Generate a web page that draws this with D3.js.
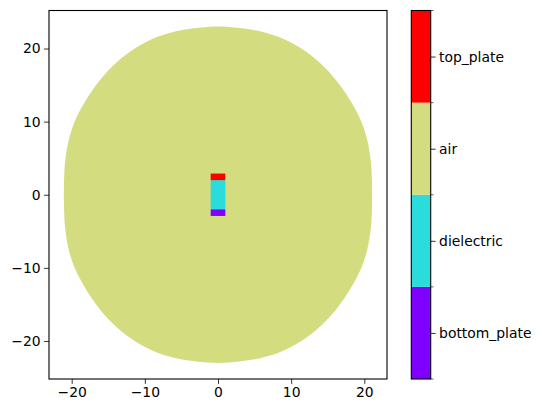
<!DOCTYPE html>
<html>
<head>
<meta charset="utf-8">
<script src="https://cdn.jsdelivr.net/npm/d3@7"></script>
<style>
  body { margin: 0; background: #fff; }
  svg { font-family: "DejaVu Sans", sans-serif; }
</style>
</head>
<body>
<svg id="chart" width="542" height="413"></svg>
<script>
// region names in colorbar order (bottom -> top)
const regions = ['bottom_plate', 'dielectric', 'air', 'top_plate']
const regionColors = ['#8000ff', '#2adcdc', '#d4dc80', '#ff0000']

// outline of the air region (x, y), clockwise from the top
const airBoundary = [
  [0, 23.0], [3, 22.8], [6, 22.3], [9, 21.3], [12, 19.6], [14.5, 17.5], [16.5, 15.2],
  [18.3, 12.5], [19.6, 10.0], [20.4, 7.5], [20.9, 4.5], [21.05, 1.5],
  [21.05, -1.5], [20.9, -4.5], [20.4, -7.5], [19.6, -10.0], [18.3, -12.5], [16.5, -15.2],
  [14.5, -17.5], [12, -19.6], [9, -21.3], [6, -22.3], [3, -22.8],
  [0, -23.0], [-3, -22.8], [-6, -22.3], [-9, -21.3], [-12, -19.6], [-14.5, -17.5],
  [-16.5, -15.2], [-18.3, -12.5], [-19.6, -10.0], [-20.4, -7.5], [-20.9, -4.5], [-21.05, -1.5],
  [-21.05, 1.5], [-20.9, 4.5], [-20.4, 7.5], [-19.6, 10.0], [-18.3, 12.5], [-16.5, 15.2],
  [-14.5, 17.5], [-12, 19.6], [-9, 21.3], [-6, 22.3], [-3, 22.8]
]

// capacitor parts: region, x0, x1, y0, y1
const plates = [
  { region: 'dielectric', x0: -1, x1: 1, y0: -2, y1: 2 },
  { region: 'top_plate', x0: -1, x1: 1, y0: 2, y1: 2.9 },
  { region: 'bottom_plate', x0: -1, x1: 1, y0: -2.9, y1: -2 }
]

const xTicks = [-20, -10, 0, 10, 20]
const yTicks = [-20, -10, 0, 10, 20]

const svg = d3.select('#chart')
const plot = { left: 49, right: 387, top: 10.5, bottom: 379 }

const x = d3.scaleLinear().domain([-23.1, 23.1]).range([plot.left, plot.right])
const y = d3.scaleLinear().domain([-25.2, 25.2]).range([plot.bottom, plot.top])
const color = d3.scaleOrdinal().domain(regions).range(regionColors)

const fmt = d => d < 0 ? '\u2212' + Math.abs(d) : String(d)

// air
svg.append('path')
  .datum(airBoundary)
  .attr('d', d3.line().x(d => x(d[0])).y(d => y(d[1])).curve(d3.curveCatmullRomClosed.alpha(0.5)))
  .attr('fill', color('air'))

// capacitor
svg.selectAll('.plate')
  .data(plates)
  .enter().append('rect')
  .attr('class', 'plate')
  .attr('x', d => x(d.x0))
  .attr('width', d => x(d.x1) - x(d.x0))
  .attr('y', d => y(d.y1))
  .attr('height', d => y(d.y0) - y(d.y1))
  .attr('fill', d => color(d.region))

// axes
const xAxis = svg.append('g')
  .attr('transform', `translate(0,${plot.bottom})`)
  .call(d3.axisBottom(x).tickValues(xTicks).tickFormat(fmt).tickSizeOuter(0).tickSize(4.9).tickPadding(3.5))
const yAxis = svg.append('g')
  .attr('transform', `translate(${plot.left},0)`)
  .call(d3.axisLeft(y).tickValues(yTicks).tickFormat(fmt).tickSizeOuter(0).tickSize(4.9).tickPadding(3.5))
;[xAxis, yAxis].forEach(a => {
  a.select('.domain').remove()
  a.selectAll('line').attr('stroke', '#000').attr('stroke-width', 0.8)
  a.selectAll('text').attr('font-size', 13.9).attr('fill', '#000').attr('font-family', '"DejaVu Sans", sans-serif')
})

// frame
svg.append('rect')
  .attr('x', plot.left).attr('y', plot.top)
  .attr('width', plot.right - plot.left).attr('height', plot.bottom - plot.top)
  .attr('fill', 'none').attr('stroke', '#000').attr('stroke-width', 1.1)

// colorbar
const cb = { left: 411.3, width: 19.4 }
const cy = d3.scaleLinear().domain([0, regions.length]).range([plot.bottom, plot.top])

svg.selectAll('.cbcell')
  .data(regions)
  .enter().append('rect')
  .attr('class', 'cbcell')
  .attr('x', cb.left)
  .attr('width', cb.width)
  .attr('y', (d, i) => cy(i + 1))
  .attr('height', (d, i) => cy(i) - cy(i + 1))
  .attr('fill', d => color(d))

// minor ticks at the boundaries
svg.append('g')
  .attr('transform', `translate(${cb.left + cb.width},0)`)
  .selectAll('line')
  .data(d3.range(regions.length + 1))
  .enter().append('line')
  .attr('x1', 0).attr('x2', 2.8)
  .attr('y1', d => cy(d)).attr('y2', d => cy(d))
  .attr('stroke', '#000').attr('stroke-width', 0.6)

const cbAxis = svg.append('g')
  .attr('transform', `translate(${cb.left + cb.width},0)`)
  .call(d3.axisRight(cy).tickValues(regions.map((d, i) => i + 0.5))
    .tickFormat((d, i) => regions[i]).tickSizeOuter(0).tickSize(4.9).tickPadding(3.5))
cbAxis.select('.domain').remove()
cbAxis.selectAll('line').attr('stroke', '#000').attr('stroke-width', 0.8)
cbAxis.selectAll('text').attr('font-size', 13.9).attr('fill', '#000').attr('font-family', '"DejaVu Sans", sans-serif')

svg.append('rect')
  .attr('x', cb.left).attr('y', plot.top)
  .attr('width', cb.width).attr('height', plot.bottom - plot.top)
  .attr('fill', 'none').attr('stroke', '#000').attr('stroke-width', 1.1)
</script>
</body>
</html>
